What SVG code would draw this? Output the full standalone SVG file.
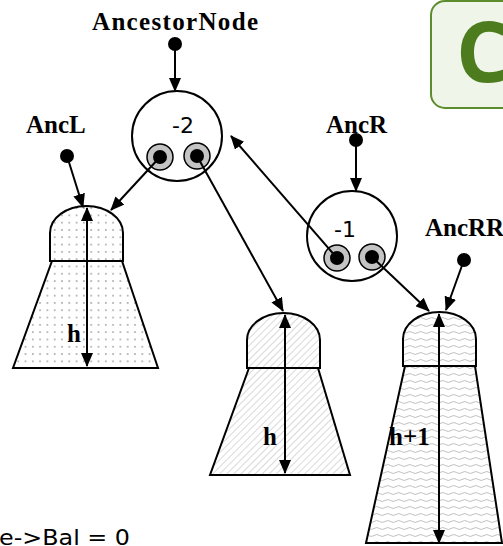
<svg xmlns="http://www.w3.org/2000/svg" width="503" height="546" viewBox="0 0 503 546">
<style>
.lbl{font-family:"Liberation Serif","Times New Roman",serif;font-weight:bold;font-size:25px;fill:#000}
.bal{font-family:"DejaVu Sans",Verdana,sans-serif;font-size:22px;fill:#000}
.edge{stroke:#000;stroke-width:2;fill:none}
.outline{stroke:#000;stroke-width:2}
.node{fill:#fff;stroke:#000;stroke-width:2}
.ptr{fill:#c4c4c4;stroke:#000;stroke-width:1.5}
</style>
<defs>
<marker id="ah" markerWidth="14" markerHeight="12" refX="13" refY="6" orient="auto" markerUnits="userSpaceOnUse">
<path d="M0,0 L14,6 L0,12 Z" fill="#000"/>
</marker>
<marker id="as" markerWidth="14" markerHeight="12" refX="1" refY="6" orient="auto" markerUnits="userSpaceOnUse">
<path d="M14,0 L0,6 L14,12 Z" fill="#000"/>
</marker>
<pattern id="dots" width="7.3" height="7.3" patternUnits="userSpaceOnUse">
<rect width="7.3" height="7.3" fill="#fff"/>
<circle cx="3.6" cy="3.6" r="0.9" fill="#a0a0a0"/>
</pattern>
<pattern id="hatch" width="5" height="5" patternUnits="userSpaceOnUse" patternTransform="rotate(45)">
<rect width="5" height="5" fill="#fff"/>
<line x1="0" y1="0" x2="0" y2="5" stroke="#b4b4b4" stroke-width="1"/>
</pattern>
<pattern id="wave" width="11" height="7" patternUnits="userSpaceOnUse">
<rect width="11" height="7" fill="#fff"/>
<path d="M0,3.5 Q2.75,1.5 5.5,3.5 T11,3.5" fill="none" stroke="#b8b8b8" stroke-width="0.9"/>
</pattern>
</defs>

<g id="badge">
<rect x="431" y="1" width="100" height="107" rx="14" fill="#eff5e8" stroke="#5c8c2c" stroke-width="2"/>
<text x="456" y="82" font-family="'Open Sans','DejaVu Sans',sans-serif" font-weight="bold" font-size="84" fill="#4d7c1f">C</text>
</g>

<g id="ancestor-label">
<text class="lbl" x="92" y="30" textLength="166" lengthAdjust="spacing">AncestorNode</text>
<circle cx="175" cy="44" r="7" fill="#000"/>
</g>
<g id="ancl-label">
<text class="lbl" x="26" y="133">AncL</text>
<circle cx="67" cy="156" r="7" fill="#000"/>
</g>
<g id="ancr-label">
<text class="lbl" x="326" y="133">AncR</text>
<circle cx="356" cy="140" r="7" fill="#000"/>
</g>
<g id="ancrr-label">
<text class="lbl" x="425" y="236">AncRR</text>
<circle cx="464" cy="260" r="7" fill="#000"/>
</g>

<g id="tree-left">
<path d="M52,261 L122,261 L158,368 L13,368 Z" fill="url(#dots)" class="outline"/>
<path d="M50,261 L50,233 A36.5,27 0 0 1 123,233 L123,261 Z" fill="url(#dots)" class="outline"/>
<line x1="87" y1="208" x2="87" y2="366" class="edge" marker-start="url(#as)" marker-end="url(#ah)"/>
<text class="lbl" x="67" y="342">h</text>
</g>
<g id="tree-mid">
<path d="M249,368 L318,368 L350,475 L210,475 Z" fill="url(#hatch)" class="outline"/>
<path d="M247,368 L247,340 A36.5,27 0 0 1 320,340 L320,368 Z" fill="url(#hatch)" class="outline"/>
<line x1="285" y1="315" x2="285" y2="473" class="edge" marker-start="url(#as)" marker-end="url(#ah)"/>
<text class="lbl" x="263" y="445">h</text>
</g>
<g id="tree-right">
<path d="M405,366 L475,366 L502,543 L366,543 Z" fill="url(#wave)" class="outline"/>
<path d="M403,366 L403,339 A36.5,27 0 0 1 476,339 L476,366 Z" fill="url(#wave)" class="outline"/>
<line x1="439" y1="314" x2="439" y2="543" class="edge" marker-start="url(#as)" marker-end="url(#ah)"/>
<text class="lbl" x="389" y="445">h+1</text>
</g>

<g id="node-ancestor">
<circle cx="177" cy="136" r="45" class="node"/>
<text class="bal" x="183" y="133" text-anchor="middle">-2</text>
<circle cx="160" cy="157" r="13" class="ptr"/>
<circle cx="160" cy="157" r="7" fill="#000"/>
<circle cx="197" cy="156" r="13" class="ptr"/>
<circle cx="197" cy="156" r="7" fill="#000"/>
</g>
<g id="node-ancr">
<circle cx="352" cy="236" r="45" class="node"/>
<text class="bal" x="345" y="237" text-anchor="middle">-1</text>
<circle cx="337" cy="258" r="13" class="ptr"/>
<circle cx="337" cy="258" r="7" fill="#000"/>
<circle cx="372" cy="257" r="13" class="ptr"/>
<circle cx="372" cy="257" r="7" fill="#000"/>
</g>

<g id="connectors">
<line x1="175" y1="44" x2="175" y2="91" class="edge" marker-end="url(#ah)"/>
<line x1="67" y1="156" x2="83" y2="207" class="edge" marker-end="url(#ah)"/>
<line x1="160" y1="157" x2="111" y2="210" class="edge" marker-end="url(#ah)"/>
<line x1="197" y1="156" x2="283" y2="311" class="edge" marker-end="url(#ah)"/>
<line x1="337" y1="258" x2="231" y2="136" class="edge" marker-end="url(#ah)"/>
<line x1="356" y1="140" x2="356" y2="191" class="edge" marker-end="url(#ah)"/>
<line x1="372" y1="257" x2="429" y2="311" class="edge" marker-end="url(#ah)"/>
<line x1="464" y1="260" x2="446" y2="310" class="edge" marker-end="url(#ah)"/>
</g>

<text class="bal" x="-1" y="545" font-size="22" textLength="131" lengthAdjust="spacingAndGlyphs">e-&gt;Bal = 0</text>
</svg>
